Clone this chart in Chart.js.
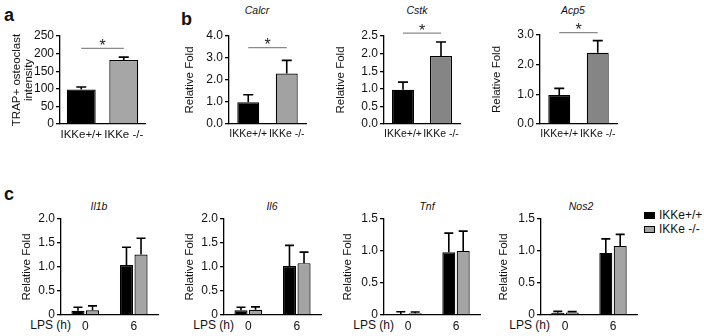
<!DOCTYPE html>
<html>
<head>
<meta charset="utf-8">
<script src="https://cdn.jsdelivr.net/npm/chart.js@4.4.1/dist/chart.umd.min.js"></script>
<style>
  html, body { margin: 0; padding: 0; background: #fff; }
  #page { position: relative; width: 704px; height: 336px; overflow: hidden; background: #fff;
          font-family: 'Liberation Sans', Arial, sans-serif; color: #111; }
  .cv { position: absolute; }
  .txt { position: absolute; white-space: nowrap; }
  .letter { font-weight: bold; font-size: 18px; line-height: 18px; }
  .gene { font-style: italic; font-size: 10.5px; line-height: 12px; transform: translateX(-50%); }
  .lps { font-size: 12px; line-height: 14px; text-align: right; }
  .leg { font-size: 12px; line-height: 14px; }
  .sw { position: absolute; width: 11px; height: 7px; box-sizing: border-box; border: 1px solid #000; }
</style>
</head>
<body>
<div id="page">
  <div class="txt letter" style="left:4px; top:6px;">a</div>
  <div class="txt letter" style="left:181px; top:10px;">b</div>
  <div class="txt letter" style="left:4px; top:185px;">c</div>

  <div class="txt gene" style="left:257px; top:4px;">Calcr</div>
  <div class="txt gene" style="left:417px; top:4px;">Cstk</div>
  <div class="txt gene" style="left:573px; top:4px;">Acp5</div>
  <div class="txt gene" style="left:99px; top:200px;">Il1b</div>
  <div class="txt gene" style="left:272px; top:200px;">Il6</div>
  <div class="txt gene" style="left:427px; top:200px;">Tnf</div>
  <div class="txt gene" style="left:581px; top:200px;">Nos2</div>

  <div class="txt lps" style="left:12px; width:59px; top:318px;">LPS (h)</div>
  <div class="txt lps" style="left:175px; width:59px; top:318px;">LPS (h)</div>
  <div class="txt lps" style="left:335px; width:59px; top:318px;">LPS (h)</div>
  <div class="txt lps" style="left:491px; width:59px; top:318px;">LPS (h)</div>

  <div class="sw" style="left:644px; top:212px; background:#000;"></div>
  <div class="txt leg" style="left:659px; top:208px;" id="leg0"></div>
  <div class="sw" style="left:644px; top:226px; background:#a4a4a4;"></div>
  <div class="txt leg" style="left:659px; top:222px;" id="leg1"></div>
</div>
<script>
// ---------------- data ----------------
const genotypeLabels = ['IKKe+/+', 'IKKe -/-'];
const lpsHours = ['0', '6'];

// panel a: TRAP+ osteoclast intensity
const trapMean = [98, 182];
const trapSem = [7, 8];
const trapSig = 215;

// panel b
const calcrMean = [0.99, 2.29];
const calcrSem = [0.34, 0.60];
const calcrSig = 3.47;
const cstkMean = [0.97, 1.93];
const cstkSem = [0.22, 0.40];
const cstkSig = 2.58;
const acp5Mean = [0.98, 2.40];
const acp5Sem = [0.22, 0.41];
const acp5Sig = 3.08;

// panel c (LPS 0 h, 6 h)
const il1bWT = [0.09, 1.04];
const il1bWTSem = [0.07, 0.37];
const il1bKO = [0.10, 1.26];
const il1bKOSem = [0.09, 0.34];
const il6WT = [0.10, 1.02];
const il6WTSem = [0.06, 0.43];
const il6KO = [0.11, 1.08];
const il6KOSem = [0.06, 0.23];
const tnfWT = [0.015, 0.98];
const tnfWTSem = [0.035, 0.30];
const tnfKO = [0.026, 1.00];
const tnfKOSem = [0.022, 0.31];
const nos2WT = [0.036, 0.97];
const nos2WTSem = [0.021, 0.22];
const nos2KO = [0.040, 1.08];
const nos2KOSem = [0.012, 0.18];

// y-axis tick settings [min, max, step]
const trapAxis = [0, 250, 50];
const calcrAxis = [0, 4, 1];
const cstkAxis = [0, 2.5, 0.5];
const acp5Axis = [0, 3, 1];
const il1bAxis = [0, 2, 0.5];
const il6Axis = [0, 2, 0.5];
const tnfAxis = [0, 1.5, 0.5];
const nos2Axis = [0, 1.5, 0.5];

document.getElementById('leg0').textContent = genotypeLabels[0];
document.getElementById('leg1').textContent = genotypeLabels[1];

// ---------------- chart setup ----------------
const FONT = "'Liberation Sans', Arial, sans-serif";
Chart.defaults.font.family = FONT;
Chart.defaults.color = '#111';

const errorBarPlugin = {
  id: 'errorBars',
  afterDatasetsDraw(chart, args, opts) {
    const ctx = chart.ctx;
    const yScale = chart.scales.y;
    const cap = opts.cap || 10;
    chart.data.datasets.forEach((ds, i) => {
      if (!ds.errors) return;
      const meta = chart.getDatasetMeta(i);
      meta.data.forEach((bar, j) => {
        const top = yScale.getPixelForValue(ds.data[j] + ds.errors[j]);
        ctx.save();
        ctx.strokeStyle = '#000';
        ctx.lineWidth = 1.6;
        ctx.beginPath();
        ctx.moveTo(bar.x, bar.y);
        ctx.lineTo(bar.x, top);
        ctx.moveTo(bar.x - cap / 2, top);
        ctx.lineTo(bar.x + cap / 2, top);
        ctx.stroke();
        ctx.restore();
      });
    });
  }
};

const sigPlugin = {
  id: 'sig',
  afterDatasetsDraw(chart, args, opts) {
    if (opts.value == null) return;
    const ctx = chart.ctx;
    const meta = chart.getDatasetMeta(0);
    const x0 = meta.data[0].x, x1 = meta.data[1].x;
    const y = chart.scales.y.getPixelForValue(opts.value);
    ctx.save();
    ctx.strokeStyle = '#8a8a8a';
    ctx.lineWidth = 1.2;
    ctx.beginPath();
    ctx.moveTo(x0, y);
    ctx.lineTo(x1, y);
    ctx.stroke();
    ctx.fillStyle = '#222';
    ctx.font = '16px ' + FONT;
    ctx.textAlign = 'center';
    ctx.textBaseline = 'alphabetic';
    ctx.fillText('*', (x0 + x1) / 2, y + 2.5);
    ctx.restore();
  }
};

function makeCanvas(g) {
  const c = document.createElement('canvas');
  c.className = 'cv';
  c.width = g.w; c.height = g.h;
  c.style.left = g.left + 'px';
  c.style.top = g.top + 'px';
  c.style.width = g.w + 'px';
  c.style.height = g.h + 'px';
  document.getElementById('page').appendChild(c);
  return c;
}

function scales(g, axis, yTitle, fmt, yTitleLH) {
  return {
    x: {
      offset: true,
      ticks: { font: { size: g.xFont }, color: '#111', padding: 4, maxRotation: 0, minRotation: 0, autoSkip: false },
      grid: { display: false, drawTicks: false },
      border: { display: true, color: '#000', width: 1.3 },
      afterFit: s => { s.height = g.xH; }
    },
    y: {
      min: axis[0], max: axis[1],
      ticks: { stepSize: axis[2], autoSkip: false, font: { size: 12 }, color: '#111', padding: 2, callback: fmt },
      grid: { display: true, drawOnChartArea: false, drawTicks: true, tickLength: 4, color: '#000', lineWidth: 1.3 },
      border: { display: true, color: '#000', width: 1.3 },
      title: { display: true, text: yTitle, font: { size: 11.5, lineHeight: yTitleLH || 1.2 }, color: '#111', padding: 0 },
      afterFit: s => { s.width = g.yW; }
    }
  };
}

function topChart(g, mean, sem, sig, axis, grey, yTitle, fmt, barPct, yTitleLH) {
  const c = makeCanvas(g);
  return new Chart(c, {
    type: 'bar',
    data: {
      labels: genotypeLabels,
      datasets: [{
        data: mean,
        errors: sem,
        backgroundColor: ['#000', grey],
        borderColor: '#000',
        borderWidth: 1.2,
        barPercentage: barPct,
        categoryPercentage: 1
      }]
    },
    options: {
      responsive: false,
      animation: false,
      devicePixelRatio: 1,
      layout: { padding: { left: 0, top: g.padT, right: g.padR, bottom: 0 } },
      plugins: { legend: { display: false }, tooltip: { enabled: false },
                 errorBars: { cap: 10 }, sig: { value: sig } },
      scales: scales(g, axis, yTitle, fmt, yTitleLH)
    },
    plugins: [errorBarPlugin, sigPlugin]
  });
}

function bottomChart(g, wt, wtSem, ko, koSem, axis) {
  const c = makeCanvas(g);
  const common = { borderColor: '#000', borderWidth: 1.2, barPercentage: 0.9, categoryPercentage: 0.6 };
  return new Chart(c, {
    type: 'bar',
    data: {
      labels: lpsHours,
      datasets: [
        Object.assign({ label: genotypeLabels[0], data: wt, errors: wtSem, backgroundColor: '#000' }, common),
        Object.assign({ label: genotypeLabels[1], data: ko, errors: koSem, backgroundColor: '#a4a4a4' }, common)
      ]
    },
    options: {
      responsive: false,
      animation: false,
      devicePixelRatio: 1,
      layout: { padding: { left: 0, top: g.padT, right: g.padR, bottom: 0 } },
      plugins: { legend: { display: false }, tooltip: { enabled: false }, errorBars: { cap: 9 } },
      scales: scales(g, axis, 'Relative Fold', v => (v === 0 ? '0' : v.toFixed(1)))
    },
    plugins: [errorBarPlugin]
  });
}

const fmt1 = v => v.toFixed(1);
const fmt0 = v => String(v);

// top row: area top 36, bottom 124
topChart({ left: 11, top: 0, w: 149, h: 150, padT: 36, padR: 15, yW: 49, xH: 26, xFont: 11.5 },
  trapMean, trapSem, trapSig, trapAxis, '#a6a6a6', ['TRAP+ osteoclast', 'intensity'], fmt0, 0.68, 1.05);
topChart({ left: 183, top: 0, w: 138, h: 150, padT: 36, padR: 15, yW: 46, xH: 26, xFont: 10.5 },
  calcrMean, calcrSem, calcrSig, calcrAxis, '#a2a2a2', 'Relative Fold', fmt1, 0.57);
topChart({ left: 334, top: 0, w: 141, h: 150, padT: 36, padR: 15, yW: 50, xH: 26, xFont: 10.5 },
  cstkMean, cstkSem, cstkSig, cstkAxis, '#858585', 'Relative Fold', fmt1, 0.58);
topChart({ left: 490, top: 0, w: 142, h: 150, padT: 35, padR: 15, yW: 50, xH: 26, xFont: 10.5 },
  acp5Mean, acp5Sem, acp5Sig, acp5Axis, '#858585', 'Relative Fold', fmt1, 0.57);

// bottom row: area top 219, bottom 315
bottomChart({ left: 20, top: 190, w: 148, h: 146, padT: 29, padR: 10, yW: 41, xH: 21, xFont: 12 },
  il1bWT, il1bWTSem, il1bKO, il1bKOSem, il1bAxis);
bottomChart({ left: 183, top: 190, w: 148, h: 146, padT: 29, padR: 10, yW: 41, xH: 21, xFont: 12 },
  il6WT, il6WTSem, il6KO, il6KOSem, il6Axis);
bottomChart({ left: 341, top: 190, w: 149, h: 146, padT: 29, padR: 10, yW: 43, xH: 21, xFont: 12 },
  tnfWT, tnfWTSem, tnfKO, tnfKOSem, tnfAxis);
bottomChart({ left: 497, top: 190, w: 150, h: 146, padT: 29, padR: 10, yW: 44, xH: 21, xFont: 12 },
  nos2WT, nos2WTSem, nos2KO, nos2KOSem, nos2Axis);
</script>
</body>
</html>
